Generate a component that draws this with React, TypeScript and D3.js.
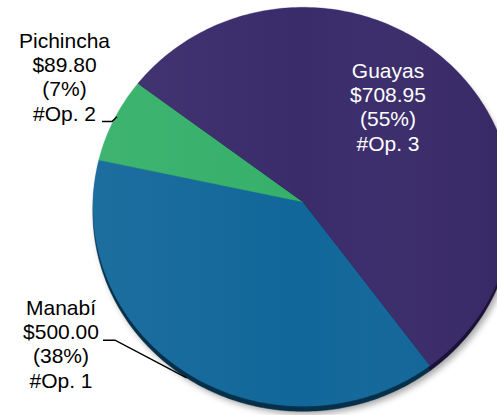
import React from 'react';
import * as d3 from 'd3';

const categories = ['Manabí', 'Pichincha', 'Guayas'];
const amounts = [500.0, 89.8, 708.95];
const opNumbers = [1, 2, 3];
const colors = ['#11679a', '#35b06a', '#3a2b6b'];
const sideColors = ['#06304a', '#1d6a3f', '#1a1236'];

const W = 497;
const H = 415;
const cx = 303;
const cy = 202;
const R = 210; // horizontal radius
const Rv = 199.4; // vertical radius (tilt)
const persp = 0.024; // perspective factor
const depth = 5;
const startDeg = 143.6;

const labelLayout = [
  { x: 61, y: 315, inside: false, color: '#000', leaderLine: 1, leaderX0: 103, leaderX1: 115, endDx: 0, endDy: 5 },
  { x: 64.5, y: 48, inside: false, color: '#000', leaderLine: 3, leaderX0: 102, leaderX1: 112, endDx: 3, endDy: -3 },
  { x: 388, y: 78, inside: true, color: '#fff', leaderLine: -1, leaderX0: 0, leaderX1: 0, endDx: 0, endDy: 0 },
];

function project(theta: number, r = 1): [number, number] {
  const u = r * Math.sin(theta);
  const v = -r * Math.cos(theta);
  const g = 1 / (1 - persp * v);
  return [cx + R * u * g, cy + Rv * v * g];
}

export default function App() {
  const total = d3.sum(amounts);
  const a0 = (startDeg * Math.PI) / 180;
  const pie = d3
    .pie<number>()
    .sort(null)
    .startAngle(a0)
    .endAngle(a0 + 2 * Math.PI);
  const arcs = pie(amounts);
  const line = d3.line<[number, number]>();

  const slicePath = (s: number, e: number, withCenter = true) => {
    const n = Math.max(4, Math.ceil(((e - s) * 180) / Math.PI));
    const pts: [number, number][] = d3.range(n + 1).map((k) => project(s + ((e - s) * k) / n));
    if (withCenter) pts.unshift(project(0, 0));
    return line(pts) + 'Z';
  };
  const fullPath = slicePath(0, 2 * Math.PI, false);

  const fmtMoney = d3.format(',.2f');
  const fmtPct = d3.format('.0%');
  const lineH = 24.2;
  const fontSize = 20;

  return (
    <svg
      width={W}
      height={H}
      style={{ position: 'absolute', left: 0, top: 0, background: '#fff' }}
      fontFamily="'Liberation Sans', Arial, sans-serif"
    >
      <defs>
        <filter id="blur" x="-20%" y="-20%" width="140%" height="140%">
          <feGaussianBlur stdDeviation="3" />
        </filter>
        <linearGradient id="shade" x1="0" x2="1" y1="0" y2="0">
          <stop offset="0" stopColor="#fff" stopOpacity="0.05" />
          <stop offset="0.5" stopColor="#fff" stopOpacity="0" />
          <stop offset="1" stopColor="#000" stopOpacity="0.08" />
        </linearGradient>
      </defs>
      <g transform={`translate(3,${depth + 3})`} filter="url(#blur)">
        <path d={fullPath} fill="#000" opacity={0.35} />
      </g>
      <g transform={`translate(0,${depth})`}>
        {arcs.map((a, i) => (
          <path key={'s' + i} d={slicePath(a.startAngle, a.endAngle)} fill={sideColors[i]} stroke={sideColors[i]} strokeWidth={0.5} />
        ))}
      </g>
      <g>
        {arcs.map((a, i) => (
          <path key={'f' + i} d={slicePath(a.startAngle, a.endAngle)} fill={colors[i]} stroke={colors[i]} strokeWidth={0.3} />
        ))}
        <path d={fullPath} fill="url(#shade)" />
      </g>
      {arcs.map((a, i) => {
        const L = labelLayout[i];
        if (L.inside) return null;
        const mid = (a.startAngle + a.endAngle) / 2;
        const [ex, ey] = project(mid);
        const ly = L.y + L.leaderLine * lineH + 1;
        return (
          <polyline
            key={'l' + i}
            points={`${L.leaderX0},${ly} ${L.leaderX1},${ly} ${ex + L.endDx},${ey + L.endDy}`}
            fill="none"
            stroke="#000"
            strokeWidth={1.5}
          />
        );
      })}
      {arcs.map((a, i) => {
        const L = labelLayout[i];
        const lines = [
          categories[i],
          '$' + fmtMoney(amounts[i]),
          '(' + fmtPct(amounts[i] / total) + ')',
          '#Op. ' + opNumbers[i],
        ];
        return (
          <g key={'t' + i} transform={`translate(${L.x},${L.y}) scale(1.05,1)`}>
            {lines.map((t, j) => (
              <text key={j} x={0} y={j * lineH} textAnchor="middle" fontSize={fontSize} fill={L.color}>
                {t}
              </text>
            ))}
          </g>
        );
      })}
    </svg>
  );
}
